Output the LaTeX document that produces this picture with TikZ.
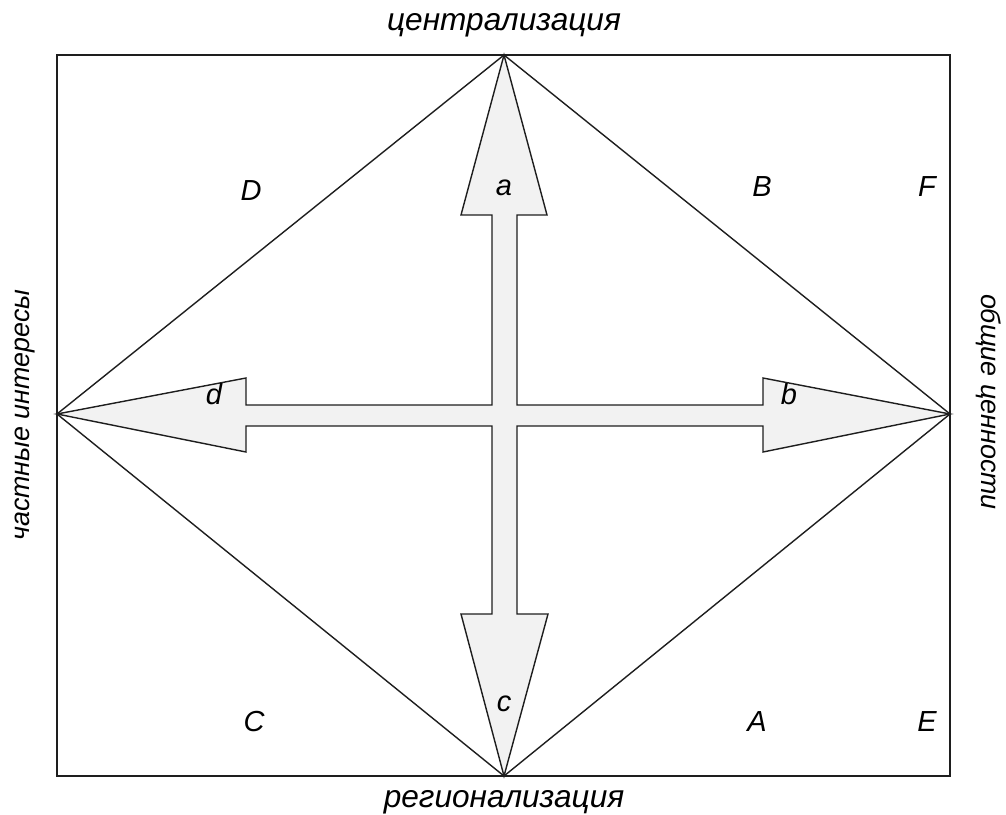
\documentclass[tikz,border=0pt]{standalone}
\usepackage{fontspec}
\setmainfont{Liberation Sans}
\usepackage{tikz}
\usetikzlibrary{positioning}
\definecolor{arrowFill}{RGB}{242,242,242}
\definecolor{lineInk}{RGB}{30,30,30}
\tikzset{
  frame/.style={draw=lineInk, line width=0.8pt},
  crossarrow/.style={draw=lineInk, fill=arrowFill, line width=0.8pt, line join=miter},
  axislabel/.style={font=\fontsize{18}{22}\selectfont\itshape, inner sep=0pt, anchor=base},
  sidelabel/.style={font=\fontsize{15.3}{19}\selectfont\itshape, inner sep=0pt},
  zonelabel/.style={font=\fontsize{16.5}{20}\selectfont\itshape, inner sep=0pt}
}
\begin{document}
\begin{tikzpicture}[x=0.02cm, y=-0.02cm]
        \useasboundingbox (0,0) rectangle (1006,814);
        \coordinate (top) at (504,55);
        \coordinate (bot) at (504,776);
        \coordinate (lft) at (57,414);
        \coordinate (rgt) at (950,414);
        \draw[frame] (57,55) rectangle (950,776);
        \draw[frame] (top) -- (rgt) -- (bot) -- (lft) -- cycle;
        \draw[crossarrow] (top) -- (547,215) -- (517,215) -- (517,405) -- (763,405) -- (763,378) -- (rgt)
          -- (763,452) -- (763,426) -- (517,426) -- (517,614) -- (548,614) -- (bot)
          -- (461,614) -- (492,614) -- (492,426) -- (246,426) -- (246,452) -- (lft)
          -- (246,378) -- (246,405) -- (492,405) -- (492,215) -- (461,215) -- cycle;
        \node[axislabel] (cent) at (504,31) {централизация};
        \node[axislabel] (reg) at (504,807) {регионализация};
        \node[sidelabel, rotate=90] (priv) at (25,415) {частные интересы};
        \node[sidelabel, rotate=-90] (comm) at (989,402) {общие ценности};
        \node[zonelabel] (a) at (504,188) {a};
        \node[zonelabel] (c) at (504,704) {c};
        \node[zonelabel] (d) at (214,394) {d};
        \node[zonelabel] (b) at (789,394) {b};
        \node[zonelabel] (D) at (251,191) {D};
        \node[zonelabel] (B) at (762,187) {B};
        \node[zonelabel] (F) at (927,187) {F};
        \node[zonelabel] (C) at (254,722) {C};
        \node[zonelabel] (A) at (757,722) {A};
        \node[zonelabel] (E) at (927,722) {E};
      \end{tikzpicture}
\end{document}
